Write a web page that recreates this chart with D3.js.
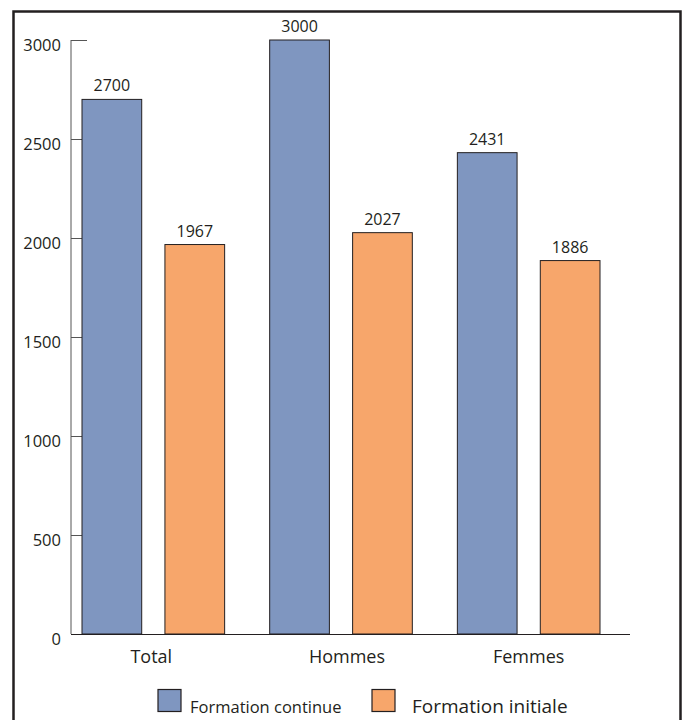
<!DOCTYPE html>
<html><head><meta charset="utf-8">
<script src="https://cdn.jsdelivr.net/npm/d3@7"></script>
<style>body{margin:0;background:#fff}svg{display:block}text{font-family:"Open Sans",sans-serif;fill:#231f20}</style>
</head><body>
<script>
const categories = ["Total", "Hommes", "Femmes"];
const seriesNames = ["Formation continue", "Formation initiale"];
const continueValues = [2700, 3000, 2431];
const initialeValues = [1967, 2027, 1886];
const yTicks = [0, 500, 1000, 1500, 2000, 2500, 3000];
const colors = ["#7f96c0", "#f7a66b"];

const W = 685, H = 720;
const svg = d3.select("body").append("svg").attr("width", W).attr("height", H);

// frame
svg.append("rect").attr("x", 13.5).attr("y", 11.5).attr("width", 667).attr("height", 730)
  .attr("fill", "none").attr("stroke", "#231f20").attr("stroke-width", 2.5);

const y = d3.scaleLinear().domain([0, 3000]).range([634, 40]);
const x0 = d3.scaleBand().domain(categories).range([82, 600]).paddingInner(0.24).paddingOuter(0);
const x1 = d3.scaleBand().domain(seriesNames).range([0, x0.bandwidth()]).paddingInner(0.28).paddingOuter(0);

// y axis
const yAxis = d3.axisRight(y).tickValues(yTicks).tickSize(11).tickFormat("");
const gy = svg.append("g").attr("transform", "translate(71,0)").call(yAxis);
gy.select(".domain").attr("stroke", "#555").attr("d", "M0,40V634");
gy.selectAll(".tick line").attr("stroke", "#555");
gy.selectAll(".tick").filter(d => d === 3000).select("line").attr("x2", 16);
svg.append("g").selectAll("text").data(yTicks).join("text")
  .attr("x", 61).attr("y", d => y(d) + 5).attr("dy", "0.35em")
  .attr("text-anchor", "end").attr("font-size", 16.5).text(d => d);

// x axis line
svg.append("line").attr("x1", 71).attr("x2", 630).attr("y1", 634.5).attr("y2", 634.5).attr("stroke", "#231f20").attr("stroke-width", 1);

const data = categories.map((c, i) => ({cat: c, vals: [
  {s: seriesNames[0], v: continueValues[i], c: colors[0]},
  {s: seriesNames[1], v: initialeValues[i], c: colors[1]}]}));

const groups = svg.append("g").selectAll("g").data(data).join("g")
  .attr("transform", d => `translate(${x0(d.cat)},0)`);
groups.selectAll("rect").data(d => d.vals).join("rect")
  .attr("x", d => x1(d.s)).attr("width", x1.bandwidth())
  .attr("y", d => y(d.v)).attr("height", d => y(0) - y(d.v))
  .attr("fill", d => d.c).attr("stroke", "#231f20").attr("stroke-width", 1);
groups.selectAll("text.val").data(d => d.vals).join("text").attr("class", "val")
  .attr("x", d => x1(d.s) + x1.bandwidth() / 2).attr("y", d => y(d.v) - 8)
  .attr("text-anchor", "middle").attr("font-size", 16).text(d => d.v);

// category labels
const catOffsets = [-2, 6, 0];
svg.append("g").selectAll("text").data(categories).join("text")
  .attr("x", (d, i) => x0(d) + x0.bandwidth() / 2 + catOffsets[i]).attr("y", 663)
  .attr("text-anchor", "middle").attr("font-size", 18).text(d => d);

// legend
const leg = [
  {name: seriesNames[0], c: colors[0], x: 158, fs: 16.5, tx: 190},
  {name: seriesNames[1], c: colors[1], x: 372, fs: 19, tx: 412}
];
const lg = svg.append("g");
lg.selectAll("rect").data(leg).join("rect")
  .attr("x", d => d.x).attr("y", 689.5).attr("width", 23).attr("height", 22)
  .attr("fill", d => d.c).attr("stroke", "#231f20").attr("stroke-width", 1.2);
lg.selectAll("text").data(leg).join("text")
  .attr("x", d => d.tx).attr("y", 712.5).attr("font-size", d => d.fs).text(d => d.name);
</script>
</body></html>
